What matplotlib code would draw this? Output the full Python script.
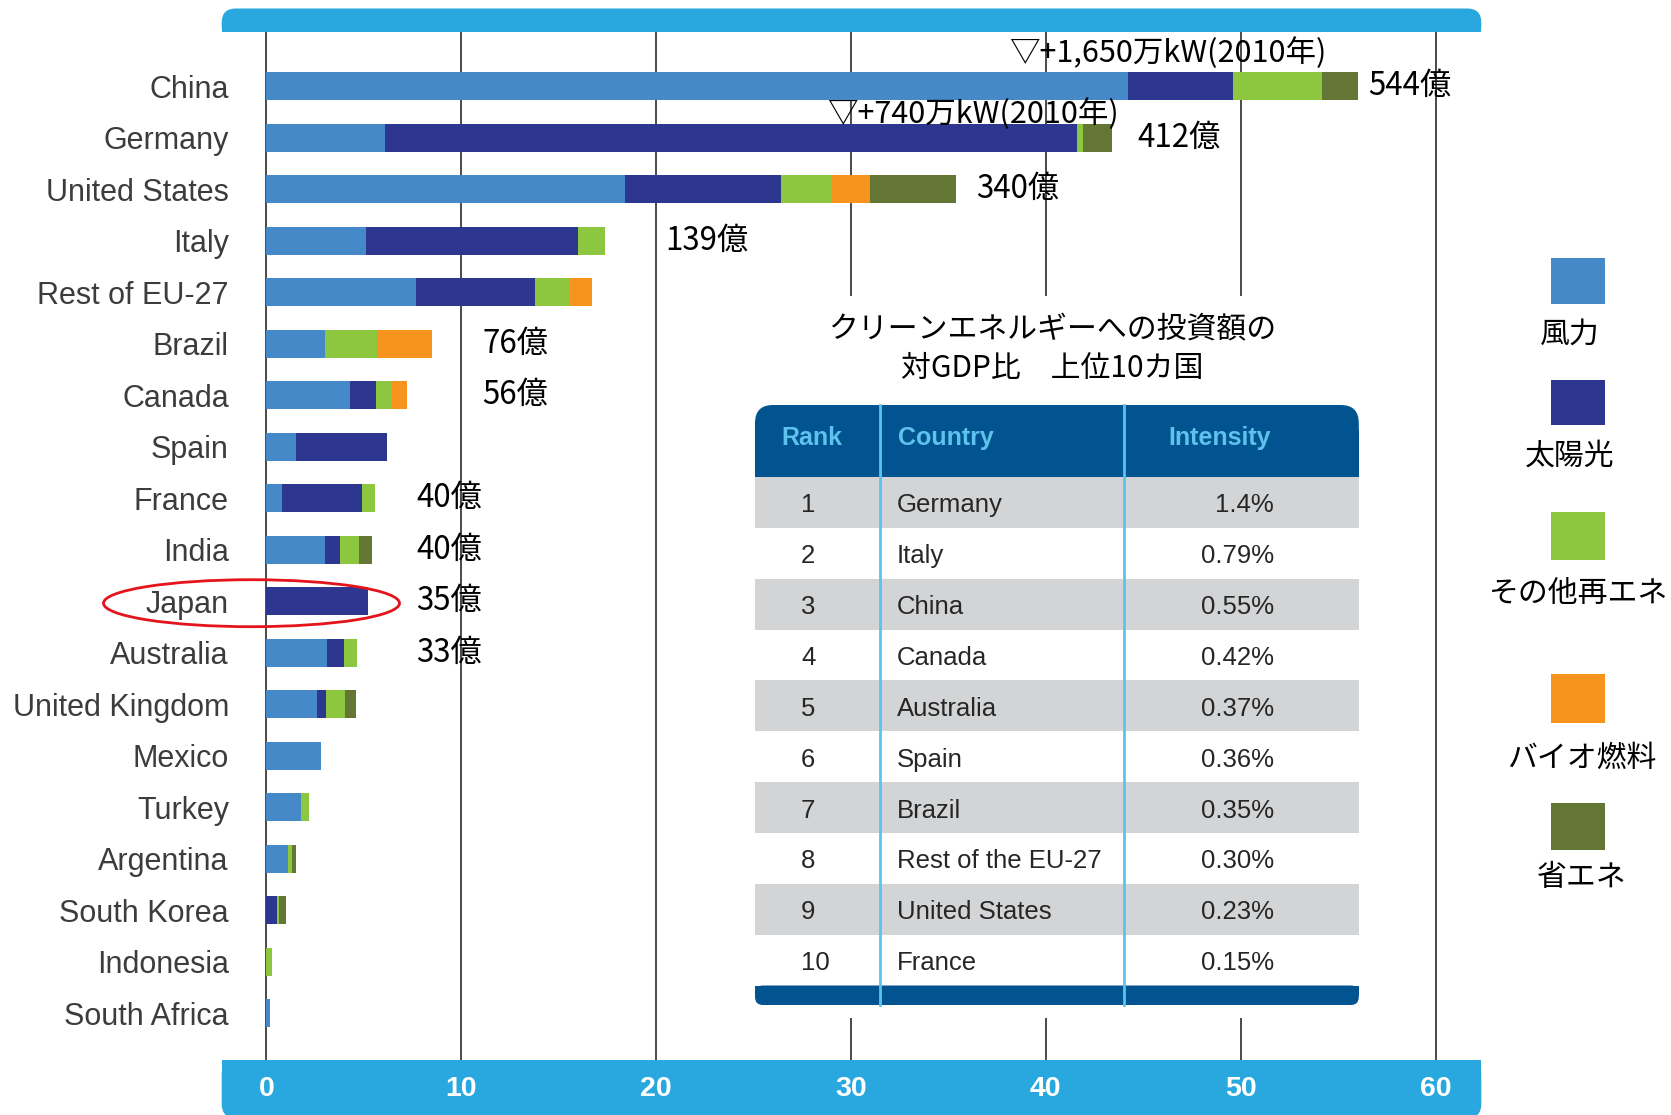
import matplotlib
matplotlib.use("Agg")
import matplotlib.pyplot as plt
from matplotlib.patches import FancyBboxPatch, Rectangle, Ellipse

# ---------------- data ----------------
countries = ['China', 'Germany', 'United States', 'Italy', 'Rest of EU-27', 'Brazil',
             'Canada', 'Spain', 'France', 'India', 'Japan', 'Australia',
             'United Kingdom', 'Mexico', 'Turkey', 'Argentina', 'South Korea',
             'Indonesia', 'South Africa']
wind  = [44.2, 6.1, 18.4, 5.1, 7.7, 3.0, 4.3, 1.5, 0.8, 3.0, 0.0, 3.1, 2.6, 2.8, 1.8, 1.1, 0.0, 0.0, 0.2]
solar = [5.4, 35.5, 8.0, 10.9, 6.1, 0.0, 1.3, 4.7, 4.1, 0.8, 5.2, 0.9, 0.45, 0.0, 0.0, 0.0, 0.55, 0.0, 0.0]
other = [4.6, 0.3, 2.6, 1.4, 1.8, 2.7, 0.8, 0.0, 0.65, 0.95, 0.0, 0.65, 1.0, 0.0, 0.4, 0.2, 0.1, 0.3, 0.0]
bio   = [0.0, 0.0, 2.0, 0.0, 1.1, 2.8, 0.8, 0.0, 0.0, 0.0, 0.0, 0.0, 0.0, 0.0, 0.0, 0.0, 0.0, 0.0, 0.0]
eff   = [1.8, 1.5, 4.4, 0.0, 0.0, 0.0, 0.0, 0.0, 0.0, 0.65, 0.0, 0.0, 0.55, 0.0, 0.0, 0.2, 0.35, 0.0, 0.0]
series_names = ['風力', '太陽光', 'その他再エネ', 'バイオ燃料', '省エネ']
series_colors = ['#4589c8', '#2e3790', '#8dc63f', '#f7941d', '#647634']

value_labels = ['544億', '412億', '340億', '139億', '', '76億', '56億', '', '40億', '40億',
                '35億', '33億', '', '', '', '', '', '', '']
value_label_x = [56.55, 44.7, 36.4, 20.45, 0, 11.1, 11.1, 0, 7.7, 7.7, 7.7, 7.7,
                 0, 0, 0, 0, 0, 0, 0]

notes = ['▽+1,650万kW(2010年)', '▽+740万kW(2010年)']
x_ticks = [0, 10, 20, 30, 40, 50, 60]

table_title = ['クリーンエネルギーへの投資額の', '対GDP比\u3000上位10カ国']
table_header = ['Rank', 'Country', 'Intensity']
table_rank = ['1', '2', '3', '4', '5', '6', '7', '8', '9', '10']
table_country = ['Germany', 'Italy', 'China', 'Canada', 'Australia', 'Spain', 'Brazil',
                 'Rest of the EU-27', 'United States', 'France']
table_intensity = ['1.4%', '0.79%', '0.55%', '0.42%', '0.37%', '0.36%', '0.35%',
                   '0.30%', '0.23%', '0.15%']

# ---------------- figure ----------------
W, H = 1671, 1115
fig = plt.figure(figsize=(W / 100, H / 100), dpi=100)
JP = ['Noto Sans CJK JP', 'DejaVu Sans']
LAT = ['Liberation Sans', 'DejaVu Sans']
BAND = '#29a8e0'

# background axes (pixel coords)
bg = fig.add_axes([0, 0, 1, 1], zorder=0)
bg.set_xlim(0, W); bg.set_ylim(H, 0); bg.axis('off')

def rbox(axx, x0, y0, x1, y1, r, color, z=1):
    axx.add_patch(FancyBboxPatch((x0 + r, y0 + r), (x1 - x0) - 2 * r, (y1 - y0) - 2 * r,
                                 boxstyle=f"round,pad={r}", fc=color, ec='none', zorder=z))

# top band (rounded top corners)
rbox(bg, 221.7, 8.5, 1481.3, 40, 14, BAND)
bg.add_patch(Rectangle((221.7, 22), 1481.3 - 221.7, 10, fc=BAND, ec='none', zorder=2))
bg.add_patch(Rectangle((221.7, 32), 1481.3 - 221.7, 12, fc='white', ec='none', zorder=3))
# bottom band
rbox(bg, 221.7, 1060.4, 1481.3, 1118, 14, BAND)
bg.add_patch(Rectangle((221.7, 1060.4), 1481.3 - 221.7, 30, fc=BAND, ec='none', zorder=2))

# main axes
x0px, x60px = 266.4, 1435.5
top_px, bot_px = 32.0, 1060.4
row0_px, row_step = 86.3, 51.5
ax = fig.add_axes([x0px / W, 1 - bot_px / H, (x60px - x0px) / W, (bot_px - top_px) / H], zorder=1)
ax.set_facecolor('none')
ax.set_xlim(0, 60)
ax.set_ylim((bot_px - row0_px) / row_step, (top_px - row0_px) / row_step)
for s in ax.spines.values():
    s.set_visible(False)

ymin, ymax = ax.get_ylim()[1], ax.get_ylim()[0]
gap_top = (296 - row0_px) / row_step
gap_bot = (1018 - row0_px) / row_step
for t in x_ticks:
    if t in (30, 40, 50):
        ax.vlines(t, ymin, gap_top, color='#4a4a4a', lw=1.4, zorder=1, clip_on=False)
        ax.vlines(t, gap_bot, ymax, color='#4a4a4a', lw=1.4, zorder=1, clip_on=False)
    else:
        ax.vlines(t, ymin, ymax, color='#4a4a4a', lw=1.4, zorder=1, clip_on=False)

ypos = list(range(len(countries)))
left = [0.0] * len(countries)
for vals, col in zip([wind, solar, other, bio, eff], series_colors):
    ax.barh(ypos, vals, left=left, height=0.54, color=col, lw=0, zorder=3)
    left = [a + b for a, b in zip(left, vals)]

ax.set_yticks(ypos)
ax.set_yticklabels(countries, fontsize=22, color='#3c3c3c', family=LAT)
ax.tick_params(axis='y', length=0, pad=27)
ax.set_xticks(x_ticks)
ax.set_xticklabels([str(t) for t in x_ticks], fontsize=20.5, color='white',
                   fontweight='bold', family=LAT)
ax.tick_params(axis='x', length=0, pad=11)

for y, lab, lx in zip(ypos, value_labels, value_label_x):
    if lab:
        ax.text(lx, y, lab, fontsize=22.5, family=JP, va='center', ha='left', zorder=5)

ax.text(38.1, -0.64, notes[0], fontsize=22, family=JP, va='center', ha='left', zorder=5)
ax.text(28.8, 0.54, notes[1], fontsize=22, family=JP, va='center', ha='left', zorder=5)

# overlay axes (pixel coords) : table, title, legend, ellipse
ov = fig.add_axes([0, 0, 1, 1], zorder=3)
ov.set_xlim(0, W); ov.set_ylim(H, 0); ov.axis('off'); ov.patch.set_alpha(0)

ov.text(1052, 330, table_title[0], fontsize=21.5, family=JP, ha='center', va='center')
ov.text(1052, 368, table_title[1], fontsize=21.5, family=JP, ha='center', va='center')

tx0, tc1, tc2, tx1 = 755, 880.4, 1123.5, 1358.8
hdr_top, hdr_bot = 405, 477
row_h = (985.5 - hdr_bot) / len(table_rank)
HDR = '#01548f'
rbox(ov, tx0, hdr_top, tx1, hdr_bot, 18, HDR)
ov.add_patch(Rectangle((tx0, hdr_top + 25), tx1 - tx0, hdr_bot - hdr_top - 25, fc=HDR, ec='none', zorder=2))
for i in range(len(table_rank)):
    yt = hdr_bot + i * row_h
    if i % 2 == 0:
        ov.add_patch(Rectangle((tx0, yt), tx1 - tx0, row_h, fc='#d3d4d6', ec='none', zorder=1))
    yc = yt + row_h / 2 + 3
    ov.text(801, yc, table_rank[i], fontsize=18.5, family=LAT, color='#262626', ha='left', va='center', zorder=4)
    ov.text(897, yc, table_country[i], fontsize=18.5, family=LAT, color='#262626', ha='left', va='center', zorder=4)
    ov.text(1274, yc, table_intensity[i], fontsize=18.5, family=LAT, color='#262626', ha='right', va='center', zorder=4)
bb_top = hdr_bot + len(table_rank) * row_h
rbox(ov, tx0, bb_top, tx1, 1005, 8, HDR)
ov.add_patch(Rectangle((tx0, bb_top), tx1 - tx0, 10, fc=HDR, ec='none', zorder=2))
for cx in (tc1, tc2):
    ov.plot([cx, cx], [hdr_top, 1005], color='#5bc4ee', lw=2, zorder=3)
hc = '#5ec2ec'
ov.text(781, 438, table_header[0], fontsize=18, family=LAT, fontweight='bold', color=hc, ha='left', va='center', zorder=4)
ov.text(898, 438, table_header[1], fontsize=18, family=LAT, fontweight='bold', color=hc, ha='left', va='center', zorder=4)
ov.text(1220, 438, table_header[2], fontsize=18, family=LAT, fontweight='bold', color=hc, ha='center', va='center', zorder=4)

# legend
sq_tops = [258, 380.4, 511.5, 673.5, 802.5]
sq_h = [45.7, 44.8, 48, 49, 47]
lab_y = [334.5, 456, 593.5, 758.7, 878]
lab_x = [1570, 1570, 1579, 1581.5, 1581.5]
for name, col, t, h, ly, lx in zip(series_names, series_colors, sq_tops, sq_h, lab_y, lab_x):
    ov.add_patch(Rectangle((1550.6, t), 54.4, h, fc=col, ec='none'))
    ov.text(lx, ly, name, fontsize=21.5, family=JP, ha='center', va='center')

# Japan highlight ellipse
ov.add_patch(Ellipse((251.5, 603.2), 296, 47, fill=False, ec='#e3141b', lw=2, zorder=5))

fig.savefig('out.png', dpi=100)
